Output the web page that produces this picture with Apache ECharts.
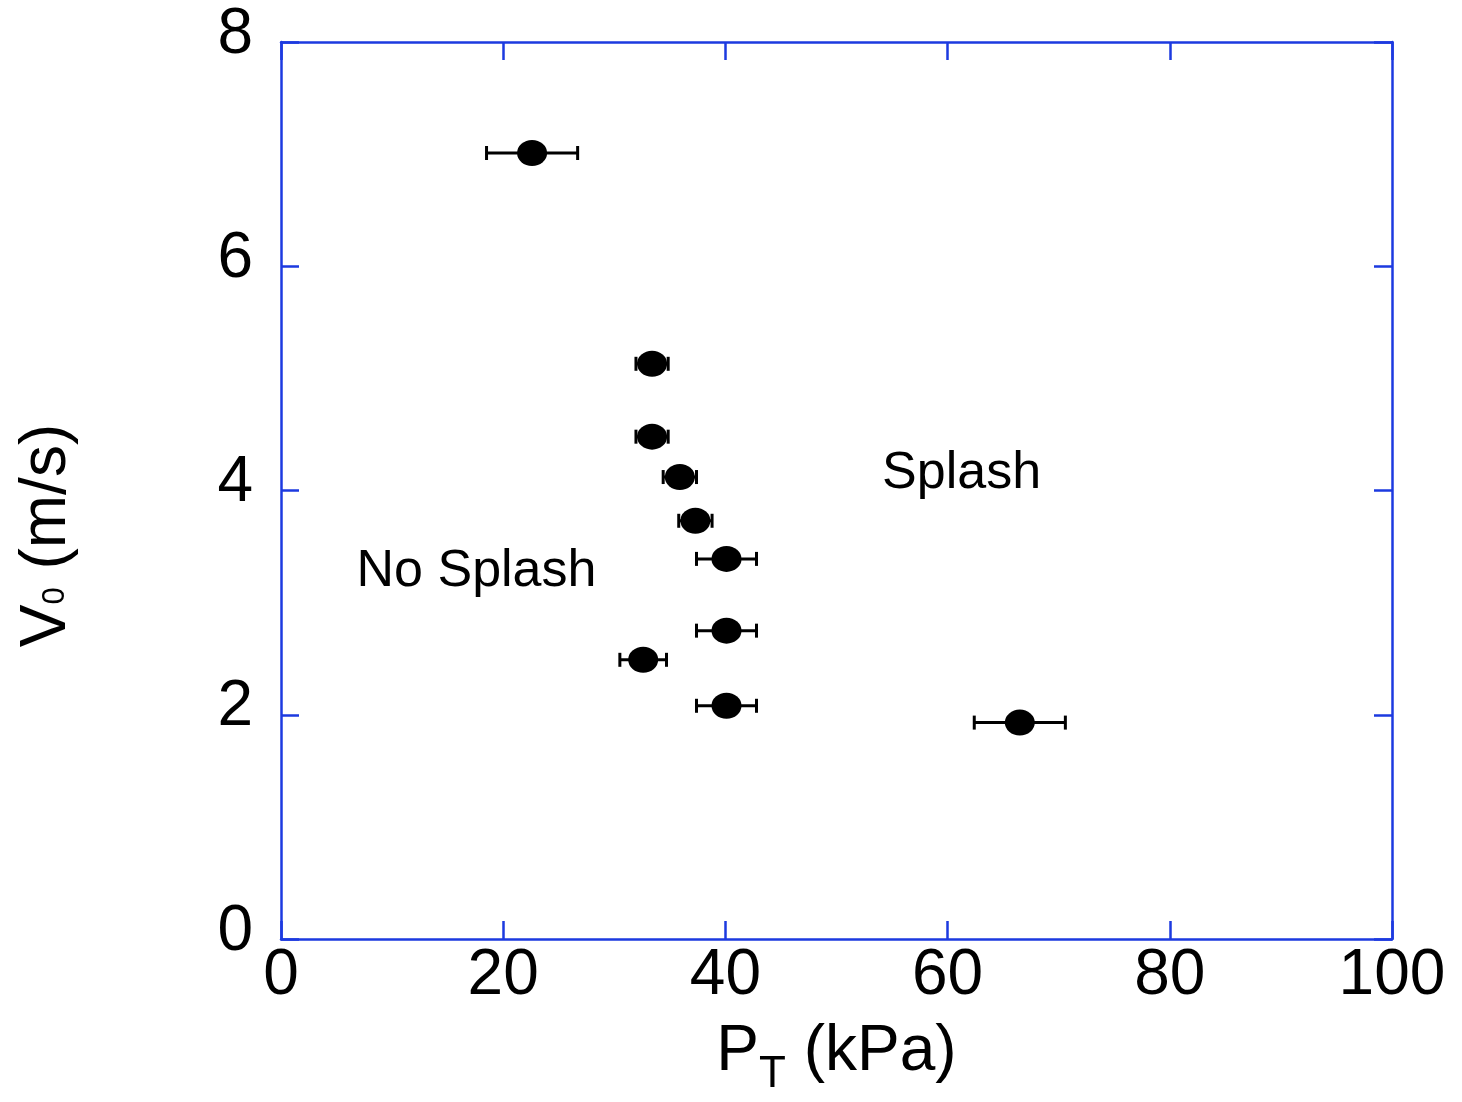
<!DOCTYPE html>
<html>
<head>
<meta charset="utf-8">
<script src="https://cdn.jsdelivr.net/npm/echarts@6/dist/echarts.min.js"></script>
<style>
  html, body { margin: 0; padding: 0; background: #fff; }
  #chart { width: 1462px; height: 1102px; }
</style>
</head>
<body>
<div id="chart"></div>
<script>
// 数据：P_T (kPa), V0 (m/s), 误差 (kPa)
var pt = [22.6, 33.4, 33.4, 35.9, 37.3, 40.1, 40.1, 32.6, 40.1, 66.5];
var v0 = [7.01, 5.13, 4.48, 4.12, 3.73, 3.39, 2.75, 2.49, 2.08, 1.93];
var ptErr = [4.1, 1.45, 1.45, 1.5, 1.5, 2.7, 2.7, 2.1, 2.7, 4.1];
var xTicks = [0, 20, 40, 60, 80, 100];
var yTicks = [0, 2, 4, 6, 8];

var blue = "#1c3ae0";
var font = "Liberation Sans, Arial, sans-serif";

var points = pt.map(function (x, i) { return [x, v0[i]]; });
var errData = pt.map(function (x, i) { return [x - ptErr[i], x + ptErr[i], v0[i]]; });

var myChart = echarts.init(document.getElementById("chart"));

function axisBase(show) {
  return {
    axisLine: { show: true, onZero: false, lineStyle: { color: blue, width: 2.5 } },
    axisTick: { show: true, inside: true, length: 18, lineStyle: { color: blue, width: 2.5 } },
    splitLine: { show: false },
    axisLabel: { show: show }
  };
}

// 下标样式
var xTitleRich = {
  a: { fontSize: 64, fontFamily: font, color: "#000", lineHeight: 50, padding: [0, 0, 13, 0], verticalAlign: "bottom" },
  b: { fontSize: 44, fontFamily: font, color: "#000", lineHeight: 8, verticalAlign: "bottom" }
};
var yTitleRich = {
  a: { fontSize: 64, fontFamily: font, color: "#000", lineHeight: 64, verticalAlign: "bottom" },
  b: { fontSize: 31, fontFamily: font, color: "#000", lineHeight: 30, padding: [0, 0, 8, 0], verticalAlign: "bottom" }
};

myChart.setOption({
  animation: false,
  backgroundColor: "#fff",
  textStyle: { fontFamily: font },
  grid: { left: 281, top: 42, right: 70, bottom: 163, outerBoundsMode: "none", containLabel: false },
  xAxis: [
    Object.assign(axisBase(true), {
      type: "value", min: 0, max: 100, interval: 20, position: "bottom",
      axisLabel: {
        show: true, color: "#000", fontSize: 64, fontFamily: font, margin: 5,
        formatter: function (v) { return xTicks.indexOf(v) >= 0 ? v : ""; }
      },
      name: "{a|P}{b|T}{a| (kPa)}",
      nameLocation: "middle",
      nameGap: 92,
      nameTextStyle: { rich: xTitleRich, padding: [16, 0, 0, 0] }
    }),
    Object.assign(axisBase(false), {
      type: "value", min: 0, max: 100, interval: 20, position: "top"
    })
  ],
  yAxis: [
    Object.assign(axisBase(true), {
      type: "value", min: 0, max: 8, interval: 2, position: "left",
      axisLabel: {
        show: true, color: "#000", fontSize: 64, fontFamily: font, margin: 28,
        verticalAlign: "bottom", lineHeight: 14,
        formatter: function (v) { return yTicks.indexOf(v) >= 0 ? v : ""; }
      },
      name: "{a|V}{b|0}{a| (m/s)}",
      nameLocation: "middle",
      nameGap: 202,
      nameTextStyle: { rich: yTitleRich, padding: [0, 90, 0, 0] }
    }),
    Object.assign(axisBase(false), {
      type: "value", min: 0, max: 8, interval: 2, position: "right"
    })
  ],
  series: [
    {
      // 误差棒
      type: "custom",
      data: errData,
      z: 2,
      renderItem: function (params, api) {
        var p1 = api.coord([api.value(0), api.value(2)]);
        var p2 = api.coord([api.value(1), api.value(2)]);
        var cap = 7;
        var st = { stroke: "#000", lineWidth: 3 };
        return {
          type: "group",
          children: [
            { type: "line", shape: { x1: p1[0], y1: p1[1], x2: p2[0], y2: p2[1] }, style: st },
            { type: "line", shape: { x1: p1[0], y1: p1[1] - cap, x2: p1[0], y2: p1[1] + cap }, style: st },
            { type: "line", shape: { x1: p2[0], y1: p2[1] - cap, x2: p2[0], y2: p2[1] + cap }, style: st }
          ]
        };
      }
    },
    {
      type: "scatter",
      data: points,
      symbol: "circle",
      symbolSize: [30, 26],
      itemStyle: { color: "#000", opacity: 1 },
      z: 3
    },
    {
      // 文字标注
      type: "scatter",
      symbolSize: 0,
      silent: true,
      itemStyle: { opacity: 1 },
      data: [
        { value: [6.8, 3.28], name: "No Splash" },
        { value: [54.1, 4.15], name: "Splash" }
      ],
      label: {
        show: true,
        position: "right",
        distance: 0,
        formatter: "{b}",
        color: "#000",
        fontSize: 52,
        fontFamily: font
      }
    }
  ]
});
</script>
</body>
</html>
